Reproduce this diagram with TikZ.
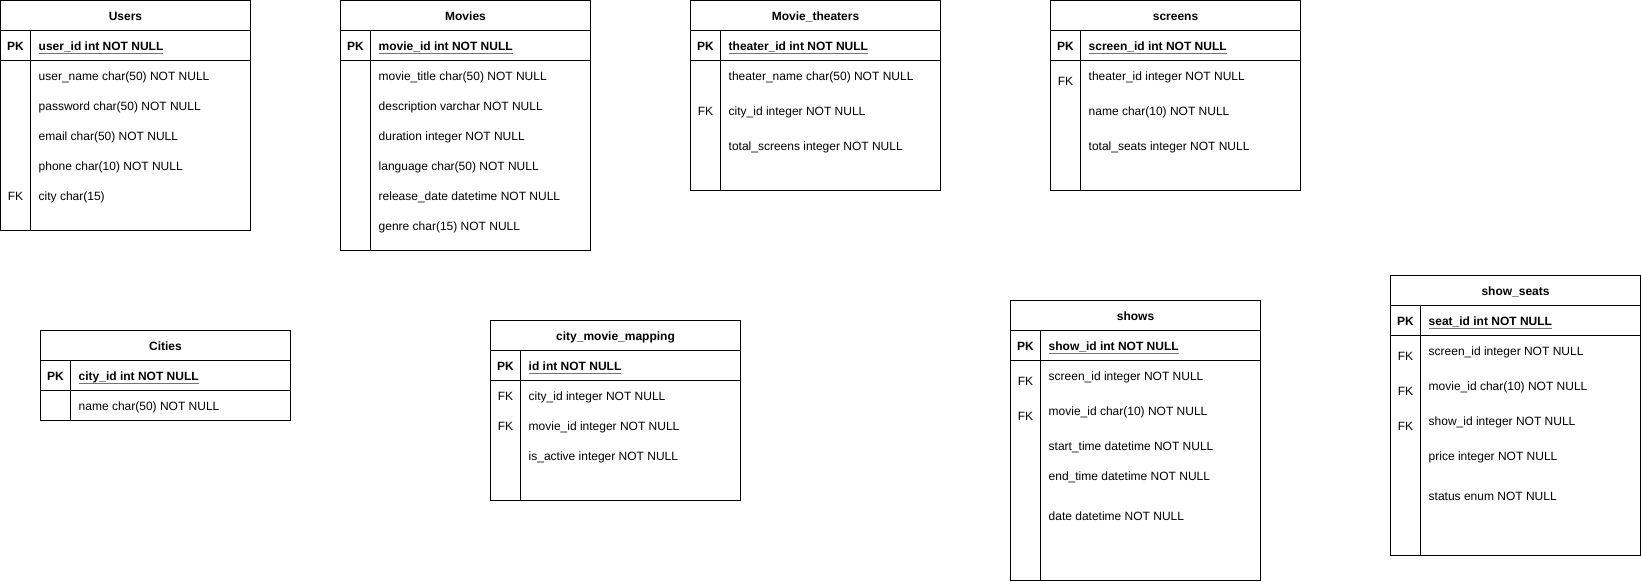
\documentclass[tikz,border=0pt]{standalone}
\usepackage{fontspec}
\setmainfont{Liberation Sans}
\newcommand{\pkname}[1]{\setbox0\hbox{#1}\rlap{\color{black!55}\rule[-3.4pt]{\wd0}{0.9pt}}\box0}
\tikzset{
  tbl/.style={draw=black, line width=1pt},
  title/.style={font=\bfseries, inner sep=0pt, text height=8.6pt, text depth=0pt, yshift=-0.8pt},
  key/.style={inner sep=0pt, text height=8.6pt, text depth=0pt, yshift=-0.8pt},
  pkey/.style={key, font=\bfseries},
  field/.style={anchor=west, inner sep=0pt, text height=8.6pt, text depth=0pt, yshift=-0.8pt},
  pfield/.style={field, font=\bfseries},
}
\begin{document}
\fontsize{12}{14}\selectfont
\begin{tikzpicture}[x=1pt, y=-1pt]
  \useasboundingbox (-0.5,-0.5) rectangle (1640.5,580.5);
  % Users
  \draw[tbl] (0,0) rectangle (250,230);
  \draw[tbl] (0,30)--(250,30) (0,60)--(250,60) (30,30)--(30,230);
  \node[title] (users) at (125,15) {Users};
  \node[pkey] (users-pk) at (15,45) {PK};
  \node[pfield] (users-id) at (38,45) {\pkname{user\_id int NOT NULL}};
  \foreach \y/\t [count=\i] in {75/{user\_name char(50) NOT NULL}, 105/{password char(50) NOT NULL},
      135/{email char(50) NOT NULL}, 165/{phone char(10) NOT NULL}, 195/{city char(15)}}
    \node[field] (users-\i) at (38,\y) {\t};
  \node[key] (users-fk) at (15,195) {FK};
  % Movies
  \draw[tbl] (340,0) rectangle (590,250);
  \draw[tbl] (340,30)--(590,30) (340,60)--(590,60) (370,30)--(370,250);
  \node[title] (movies) at (465,15) {Movies};
  \node[pkey] (movies-pk) at (355,45) {PK};
  \node[pfield] (movies-id) at (378,45) {\pkname{movie\_id int NOT NULL}};
  \foreach \y/\t [count=\i] in {75/{movie\_title char(50) NOT NULL}, 105/{description varchar NOT NULL},
      135/{duration integer NOT NULL}, 165/{language char(50) NOT NULL},
      195/{release\_date datetime NOT NULL}, 225/{genre char(15) NOT NULL}}
    \node[field] (movies-\i) at (378,\y) {\t};
  % Movie_theaters
  \draw[tbl] (690,0) rectangle (940,190);
  \draw[tbl] (690,30)--(940,30) (690,60)--(940,60) (720,30)--(720,190);
  \node[title] (theaters) at (815,15) {Movie\_theaters};
  \node[pkey] (theaters-pk) at (705,45) {PK};
  \node[pfield] (theaters-id) at (728,45) {\pkname{theater\_id int NOT NULL}};
  \foreach \y/\t [count=\i] in {75/{theater\_name char(50) NOT NULL}, 110/{city\_id integer NOT NULL},
      145/{total\_screens integer NOT NULL}}
    \node[field] (theaters-\i) at (728,\y) {\t};
  \node[key] (theaters-fk) at (705,110) {FK};
  % screens
  \draw[tbl] (1050,0) rectangle (1300,190);
  \draw[tbl] (1050,30)--(1300,30) (1050,60)--(1300,60) (1080,30)--(1080,190);
  \node[title] (screens) at (1175,15) {screens};
  \node[pkey] (screens-pk) at (1065,45) {PK};
  \node[pfield] (screens-id) at (1088,45) {\pkname{screen\_id int NOT NULL}};
  \foreach \y/\t [count=\i] in {75/{theater\_id integer NOT NULL}, 110/{name char(10) NOT NULL},
      145/{total\_seats integer NOT NULL}}
    \node[field] (screens-\i) at (1088,\y) {\t};
  \node[key] (screens-fk) at (1065,80) {FK};
  % Cities
  \draw[tbl] (40,330) rectangle (290,420);
  \draw[tbl] (40,360)--(290,360) (40,390)--(290,390) (70,360)--(70,420);
  \node[title] (cities) at (165,345) {Cities};
  \node[pkey] (cities-pk) at (55,375) {PK};
  \node[pfield] (cities-id) at (78,375) {\pkname{city\_id int NOT NULL}};
  \node[field] (cities-1) at (78,405) {name char(50) NOT NULL};
  % city_movie_mapping
  \draw[tbl] (490,320) rectangle (740,500);
  \draw[tbl] (490,350)--(740,350) (490,380)--(740,380) (520,350)--(520,500);
  \node[title] (mapping) at (615,335) {city\_movie\_mapping};
  \node[pkey] (mapping-pk) at (505,365) {PK};
  \node[pfield] (mapping-id) at (528,365) {\pkname{id int NOT NULL}};
  \foreach \y/\t [count=\i] in {395/{city\_id integer NOT NULL}, 425/{movie\_id integer NOT NULL},
      455/{is\_active integer NOT NULL}}
    \node[field] (mapping-\i) at (528,\y) {\t};
  \node[key] (mapping-fk1) at (505,395) {FK};
  \node[key] (mapping-fk2) at (505,425) {FK};
  % shows
  \draw[tbl] (1010,300) rectangle (1260,580);
  \draw[tbl] (1010,330)--(1260,330) (1010,360)--(1260,360) (1040,330)--(1040,580);
  \node[title] (shows) at (1135,315) {shows};
  \node[pkey] (shows-pk) at (1025,345) {PK};
  \node[pfield] (shows-id) at (1048,345) {\pkname{show\_id int NOT NULL}};
  \foreach \y/\t [count=\i] in {375/{screen\_id integer NOT NULL}, 410/{movie\_id char(10) NOT NULL},
      445/{start\_time datetime NOT NULL}, 475/{end\_time datetime NOT NULL},
      515/{date datetime NOT NULL}}
    \node[field] (shows-\i) at (1048,\y) {\t};
  \node[key] (shows-fk1) at (1025,380) {FK};
  \node[key] (shows-fk2) at (1025,415) {FK};
  % show_seats
  \draw[tbl] (1390,275) rectangle (1640,555);
  \draw[tbl] (1390,305)--(1640,305) (1390,335)--(1640,335) (1420,305)--(1420,555);
  \node[title] (seats) at (1515,290) {show\_seats};
  \node[pkey] (seats-pk) at (1405,320) {PK};
  \node[pfield] (seats-id) at (1428,320) {\pkname{seat\_id int NOT NULL}};
  \foreach \y/\t [count=\i] in {350/{screen\_id integer NOT NULL}, 385/{movie\_id char(10) NOT NULL},
      420/{show\_id integer NOT NULL}, 455/{price integer NOT NULL}, 495/{status enum NOT NULL}}
    \node[field] (seats-\i) at (1428,\y) {\t};
  \node[key] (seats-fk1) at (1405,355) {FK};
  \node[key] (seats-fk2) at (1405,390) {FK};
  \node[key] (seats-fk3) at (1405,425) {FK};
\end{tikzpicture}
\end{document}
